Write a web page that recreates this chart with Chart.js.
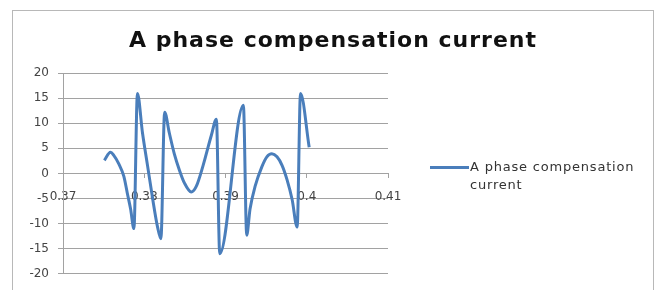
<!DOCTYPE html>
<html>
<head>
<meta charset="utf-8">
<script src="https://cdn.jsdelivr.net/npm/chart.js@4.4.1/dist/chart.umd.min.js"></script>
<style>
  html, body { margin: 0; padding: 0; background: #fff; }
  #wrap { position: relative; width: 660px; height: 290px; overflow: hidden; }
  #frame { position: absolute; left: 12px; top: 10px; width: 640px; height: 300px; border: 1px solid #b8b8b8; }
  #chart { position: absolute; left: 0; top: 0; }
  #title { position: absolute; left: 0; width: 666px; top: 26px; text-align: center; font: bold 22px "DejaVu Sans", sans-serif; letter-spacing: 1px; color: #111; line-height: 28px; }
  #legend { position: absolute; left: 430px; top: 158px; font: 13px "DejaVu Sans", sans-serif; color: #333; letter-spacing: 0.8px; line-height: 18px; }
  #legend .swatch { position: absolute; left: 0; top: 8px; width: 39px; height: 3px; background: #4a7ebb; }
  #legend .text { margin-left: 40px; }
</style>
</head>
<body>
<div id="wrap">
  <div id="frame"></div>
  <canvas id="chart" width="660" height="290"></canvas>
  <div id="title"></div>
  <div id="legend"><div class="swatch"></div><div class="text" id="legend-text"></div></div>
</div>
<script>
const chartTitle = 'A phase compensation current';
const seriesName = 'A phase compensation current';

// time (s) and current
const timeValues = [
  0.37509, 0.37584, 0.37625, 0.37687, 0.37749, 0.37791, 0.37832, 0.37873,
  0.37916, 0.37978, 0.38040, 0.38102, 0.38164, 0.38205,
  0.38251, 0.38308, 0.38370, 0.38432, 0.38494, 0.38578, 0.38640, 0.38723,
  0.38826, 0.38888, 0.38929, 0.39220, 0.39261,
  0.39302, 0.39364, 0.39447, 0.39509, 0.39571, 0.39634, 0.39696, 0.39758,
  0.39820, 0.39882, 0.39923, 0.40030,
];
const currentValues = [
  2.6, 4.2, 3.6, 1.9, -0.6, -3.9, -7.1, -11.0,
  15.9, 8.1, 1.6, -4.9, -10.7, -13.0,
  12.2, 8.1, 3.9, 0.7, -1.9, -3.7, -2.6, 1.5,
  7.6, 10.8, -16.0, 13.6, -12.3,
  -7.1, -2.6, 1.3, 3.3, 3.9, 3.3, 1.6, -1.3,
  -5.2, -10.7, 15.9, 5.2,
];

const xTicks = [0.37, 0.38, 0.39, 0.4, 0.41];
const yTicks = [-20, -15, -10, -5, 0, 5, 10, 15, 20];

const lineColor = '#4a7ebb';
const gridColor = '#a2a2a2';
const tickFont = { family: 'DejaVu Sans', size: 12 };

document.getElementById('title').textContent = chartTitle;
document.getElementById('legend-text').innerHTML = 'A phase compensation<br>current';

const points = timeValues.map((t, i) => ({ x: t, y: currentValues[i] }));

new Chart(document.getElementById('chart'), {
  type: 'line',
  data: {
    datasets: [
      {
        label: seriesName,
        data: points,
        borderColor: lineColor,
        borderWidth: 3,
        pointRadius: 0,
        cubicInterpolationMode: 'monotone',
        fill: false,
      },
    ],
  },
  options: {
    responsive: false,
    animation: false,
    layout: { padding: { left: 13, right: 272, top: 73, bottom: 10 } },
    plugins: {
      legend: { display: false },
      tooltip: { enabled: false },
      title: { display: false },
    },
    scales: {
      x: {
        type: 'linear',
        position: { y: 0 },
        min: 0.37,
        max: 0.41,
        afterBuildTicks: (axis) => {
          axis.ticks = xTicks.map((v) => ({ value: v }));
        },
        ticks: {
          color: '#444',
          font: tickFont,
          padding: 12,
          callback: (v) => String(Number(v.toFixed(2))),
        },
        grid: { display: true, drawOnChartArea: false, color: gridColor, tickLength: 4 },
        border: { color: gridColor },
      },
      y: {
        min: -20,
        max: 20,
        afterBuildTicks: (axis) => {
          axis.ticks = yTicks.map((v) => ({ value: v }));
        },
        afterFit: (axis) => {
          axis.width = 50;
        },
        ticks: { color: '#444', font: tickFont, padding: 9 },
        grid: { color: gridColor, tickLength: 5 },
        border: { color: gridColor },
      },
    },
  },
});
</script>
</body>
</html>
